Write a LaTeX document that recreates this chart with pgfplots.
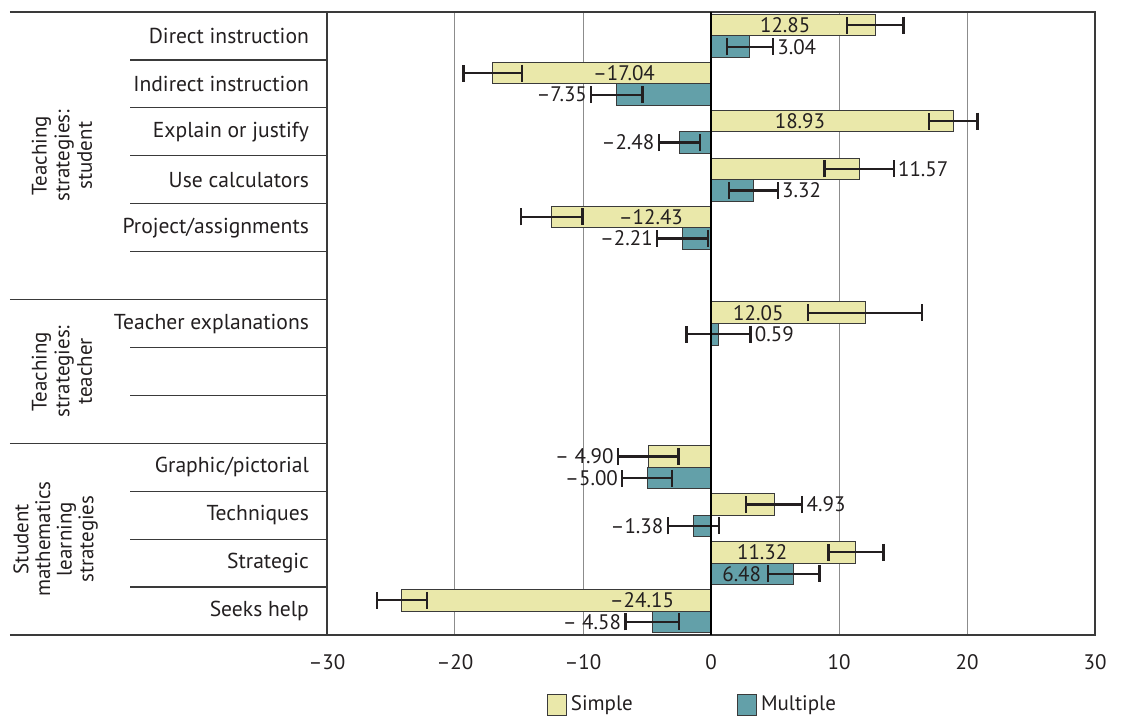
\documentclass[border=0pt]{standalone}
\usepackage{pgfplots}
\usepackage{pgfplotstable}
\pgfplotsset{compat=1.18}
\usepackage{fontspec}
\setmainfont{PT Sans}
\definecolor{simplec}{HTML}{EAE8AA}
\definecolor{multic}{HTML}{63A0A9}
\definecolor{linec}{HTML}{3A3A3A}
\definecolor{txt}{HTML}{231F20}
\definecolor{gridc}{HTML}{8C8C8C}

% pos = row - 0.225 (Simple bar sits in the upper half of its row)
\pgfplotstableread{
row pos val err
1 0.775 12.85 2.2
2 1.775 -17.04 2.3
3 2.775 18.93 1.9
4 3.775 11.57 2.7
5 4.775 -12.43 2.4
7 6.775 12.05 4.45
10 9.775 -4.90 2.37
11 10.775 4.93 2.2
12 11.775 11.32 2.15
13 12.775 -24.15 1.95
}\simpledata

% pos = row + 0.225 (Multiple bar sits in the lower half of its row)
\pgfplotstableread{
row pos val err
1 1.225 3.04 1.8
2 2.225 -7.35 2.0
3 3.225 -2.48 1.6
4 4.225 3.32 1.9
5 5.225 -2.21 2.0
7 7.225 0.59 2.5
10 10.225 -5.00 1.93
11 11.225 -1.38 2.0
12 12.225 6.48 2.0
13 13.225 -4.58 2.1
}\multipledata

\pgfplotstableread[col sep=comma]{
x,y,label
5.8,0.775,12.85
-6.8,1.775,–17.04
6.95,2.775,18.93
-4.7,4.775,–12.43
3.7,6.775,12.05
4.0,11.775,11.32
2.4,12.225,6.48
-5.4,12.775,–24.15
}\labcenter

\pgfplotstableread[col sep=comma]{
x,y,label
4.84,1.225,3.04
14.27,3.775,11.57
5.22,4.225,3.32
3.09,7.225,0.59
7.13,10.775,4.93
}\labwest

\pgfplotstableread[col sep=comma]{
x,y,label
-9.35,2.225,–7.35
-4.08,3.225,–2.48
-4.21,5.225,–2.21
-7.27,9.775,– 4.90
-6.93,10.225,–5.00
-3.38,11.225,–1.38
-6.68,13.225,– 4.58
}\labeast

\newcommand{\numfont}{\fontsize{10.5}{12}\selectfont}
\newcommand{\catfont}{\fontsize{10.8}{12}\selectfont}

\begin{document}
\begin{tikzpicture}
\begin{axis}[
  scale only axis,
  width=384pt, height=311.5pt,
  xmin=-30, xmax=30,
  ymin=0.5, ymax=13.5,
  y dir=reverse,
  clip=false,
  axis line style={linec, line width=0.75pt},
  xtick={-30,-20,...,30},
  xticklabels={–30,–20,–10,0,10,20,30},
  xticklabel style={font=\numfont, text=txt, yshift=-6pt},
  xmajorgrids,
  grid style={gridc, line width=0.5pt},
  major tick length=0pt,
  ytick={1,...,13},
  yticklabels={Direct instruction, Indirect instruction, Explain or justify, Use calculators, Project/assignments, {}, Teacher explanations, {}, {}, Graphic/pictorial, Techniques, Strategic, Seeks help},
  yticklabel style={font=\catfont, text=txt, xshift=-5.5pt},
  legend style={at={(0.477,-0.112)}, anchor=center, draw=none, fill=none,
    legend columns=2, font=\numfont, text=txt,
    /tikz/every even column/.append style={column sep=50pt}},
  mybar/.style={xbar, bar width=0.45, bar shift=0pt, draw=linec, line width=0.5pt, fill=#1,
    legend image code/.code={\draw[fill=#1, draw=linec, line width=0.6pt] (0pt,-5.25pt) rectangle (9.5pt,5.25pt);},
    /pgfplots/error bars/x dir=both, /pgfplots/error bars/x explicit,
    /pgfplots/error bars/error bar style={line width=1.15pt, txt},
    /pgfplots/error bars/error mark options={rotate=90, line width=1.15pt, txt, mark size=4.25pt}},
  lab/.style={draw=none, mark=none, forget plot, nodes near coords, point meta=explicit symbolic,
    every node near coord/.style={font=\numfont, text=txt, inner sep=2pt, anchor=#1}},
]
\addplot[mybar=simplec] table[x=val, y=pos, x error=err] {\simpledata};
\addlegendentry{Simple}
\addplot[mybar=multic] table[x=val, y=pos, x error=err] {\multipledata};
\addlegendentry{Multiple}

\addplot[lab=center] table[x=x, y=y, meta=label] {\labcenter};
\addplot[lab=west] table[x=x, y=y, meta=label] {\labwest};
\addplot[lab=east] table[x=x, y=y, meta=label] {\labeast};

% zero line
\draw[black, line width=1pt] (axis cs:0,0.5) -- (axis cs:0,13.5);
% left table lines
\pgfplotsinvokeforeach{0.5,6.5,9.5,13.5}{
  \draw[linec, line width=0.75pt] (axis cs:-54.77,#1) -- (axis cs:-30,#1);
}
\pgfplotsinvokeforeach{1.5,2.5,3.5,4.5,5.5,7.5,8.5,10.5,11.5,12.5}{
  \draw[linec, line width=0.6pt] (axis cs:-45.39,#1) -- (axis cs:-30,#1);
}
\node[rotate=90, align=center, font=\fontsize{10.5}{11.3}\selectfont, text=txt] at (axis cs:-50.7,3.5) {Teaching\\strategies:\\student};
\node[rotate=90, align=center, font=\fontsize{10.5}{11.3}\selectfont, text=txt] at (axis cs:-50.7,8.0) {Teaching\\strategies:\\teacher};
\node[rotate=90, align=center, font=\fontsize{10.5}{10.8}\selectfont, text=txt] at (axis cs:-51.2,11.5) {Student\\mathematics\\learning\\strategies};
\end{axis}
\pgfresetboundingbox
\path[use as bounding box] (-163.5pt,-42pt) rectangle (398pt,317.5pt);
\end{tikzpicture}
\end{document}
